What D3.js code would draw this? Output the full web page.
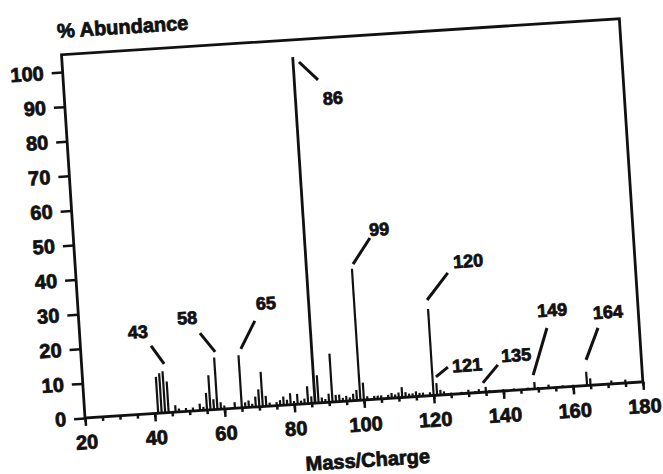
<!DOCTYPE html>
<html>
<head>
<meta charset="utf-8">
<script src="https://cdn.jsdelivr.net/npm/d3@7"></script>
<style>
  body { margin: 0; background: #fff; }
  svg { display: block; }
  text { font-family: "Liberation Sans", Arial, sans-serif; font-weight: bold; fill: #111; stroke: #111; stroke-width: 0.8px; }
</style>
</head>
<body>
<svg id="chart" width="663" height="474"></svg>
<script>
// peaks (m/z, % abundance)
const masses = [41, 42, 43, 44, 46, 47, 49, 51, 53, 54, 55, 56, 57, 58, 59, 60, 63, 65, 66, 67, 68, 69, 70, 71, 72, 73,
  75, 76, 77, 78, 79, 80, 81, 82, 83, 84, 85, 86, 87, 88, 89, 90, 91, 92, 93, 94, 95, 96, 97, 98, 99, 100,
  101, 103, 104, 105, 107, 108, 109, 110, 111, 112, 113, 114, 115, 116, 117, 119, 120, 121, 122, 123, 125,
  128, 130, 132, 133, 135, 136, 140, 143, 147, 149, 150, 153, 157, 160, 164, 165, 171, 175];
const abundances = [10.5, 11.5, 12, 9, 2, 1, 1, 1, 2, 1, 5, 10, 3, 15, 2, 1, 1.8, 15.2, 1.5, 2, 1, 3, 5, 10, 3, 1,
  1, 1.5, 2.5, 1.5, 3.3, 1, 3, 1, 1.5, 5, 2, 100, 8, 1.5, 1, 2.5, 14, 2, 2, 1, 1.5, 1, 2, 3, 38, 5,
  1, 1, 1, 1, 1, 1.5, 1, 1.5, 3, 1.5, 1, 1, 1.5, 1, 1, 1, 25, 3.5, 1.5, 1, 0.5,
  0.5, 1, 0.5, 1, 1.5, 0.5, 0.5, 0.5, 0.5, 2, 0.5, 1, 0.5, 0.5, 4, 2, 1, 1];

const xTicks = [20, 40, 60, 80, 100, 120, 140, 160, 180];
const xMinorTicks = d3.range(20, 181, 5);
const yTicks = [0, 10, 20, 30, 40, 50, 60, 70, 80, 90, 100];

// peak labels: text position and leader line ends, in (m/z, abundance)
const labelTexts = ["43", "58", "65", "86", "99", "120", "121", "135", "149", "164"];
const labelAt = [[36.7, 23.8], [51.0, 26.9], [73.8, 29.7], [96.7, 87.5], [107.5, 48.9],
  [132.3, 38.1], [130.1, 8.1], [144.3, 10.1], [155.4, 22.4], [171.3, 20.8]];
const leaderFrom = [[40.2, 19.5], [54.4, 22.3], [70.3, 24.8], [87.7, 98.5], [104.7, 46.5],
  [126.3, 35.0], [124.6, 7.9], [138.9, 7.6], [153.6, 17.3], [168.2, 16.4]];
const leaderTo = [[43.6, 14.1], [58.4, 16.6], [65.8, 17.0], [92.8, 93.0], [99.4, 39.3],
  [119.9, 27.6], [121.0, 5.3], [134.3, 2.7], [148.8, 4.0], [164.2, 7.4]];

const W = 559, H = 364;
const ink = "#111";

const svg = d3.select("#chart");

// the scanned page sits slightly tilted
const g = svg.append("g")
  .attr("transform", `translate(85,418) rotate(-3.7) translate(0,${-H})`);

const x = d3.scaleLinear().domain([20, 180]).range([0, W]);
const y = d3.scaleLinear().domain([0, 105]).range([H, 0]);

// peaks
const peaks = masses.map((m, i) => ({ m, v: abundances[i] }));
g.append("g")
  .selectAll("line")
  .data(peaks)
  .join("line")
  .attr("x1", d => x(d.m))
  .attr("x2", d => x(d.m))
  .attr("y1", y(0))
  .attr("y2", d => y(d.v))
  .attr("stroke", ink)
  .attr("stroke-width", d => d.v > 50 ? 2.8 : 2.2);

// frame
g.append("rect")
  .attr("width", W)
  .attr("height", H)
  .attr("fill", "none")
  .attr("stroke", ink)
  .attr("stroke-width", 2.8);

// axes
const xMinor = g.append("g")
  .attr("transform", `translate(0,${H})`)
  .call(d3.axisBottom(x).tickValues(xMinorTicks).tickSize(4).tickFormat(""));

const xAxis = g.append("g")
  .attr("transform", `translate(0,${H})`)
  .call(d3.axisBottom(x).tickValues(xTicks).tickSize(8).tickPadding(9));

const yAxis = g.append("g")
  .call(d3.axisLeft(y).tickValues(yTicks).tickSize(11).tickPadding(8));

[xMinor, xAxis, yAxis].forEach(a => {
  a.select(".domain").remove();
  a.selectAll(".tick line").attr("stroke", ink).attr("stroke-width", 2.5);
  a.attr("font-family", null).attr("font-size", 20);
  a.selectAll("text").attr("fill", ink);
});

// peak labels
g.append("g")
  .selectAll("line")
  .data(labelTexts)
  .join("line")
  .attr("x1", (d, i) => x(leaderFrom[i][0]))
  .attr("y1", (d, i) => y(leaderFrom[i][1]))
  .attr("x2", (d, i) => x(leaderTo[i][0]))
  .attr("y2", (d, i) => y(leaderTo[i][1]))
  .attr("stroke", ink)
  .attr("stroke-width", 3);

g.append("g")
  .selectAll("text")
  .data(labelTexts)
  .join("text")
  .attr("x", (d, i) => x(labelAt[i][0]))
  .attr("y", (d, i) => y(labelAt[i][1]))
  .attr("dy", "0.35em")
  .attr("text-anchor", "middle")
  .attr("font-size", 18)
  .text(d => d);

// axis titles
g.append("text")
  .attr("x", -3)
  .attr("y", -24)
  .attr("dy", "0.35em")
  .attr("font-size", 20)
  .text("% Abundance");

g.append("text")
  .attr("x", W / 2)
  .attr("y", H + 60)
  .attr("dy", "0.35em")
  .attr("text-anchor", "middle")
  .attr("font-size", 20)
  .text("Mass/Charge");
</script>
</body>
</html>
